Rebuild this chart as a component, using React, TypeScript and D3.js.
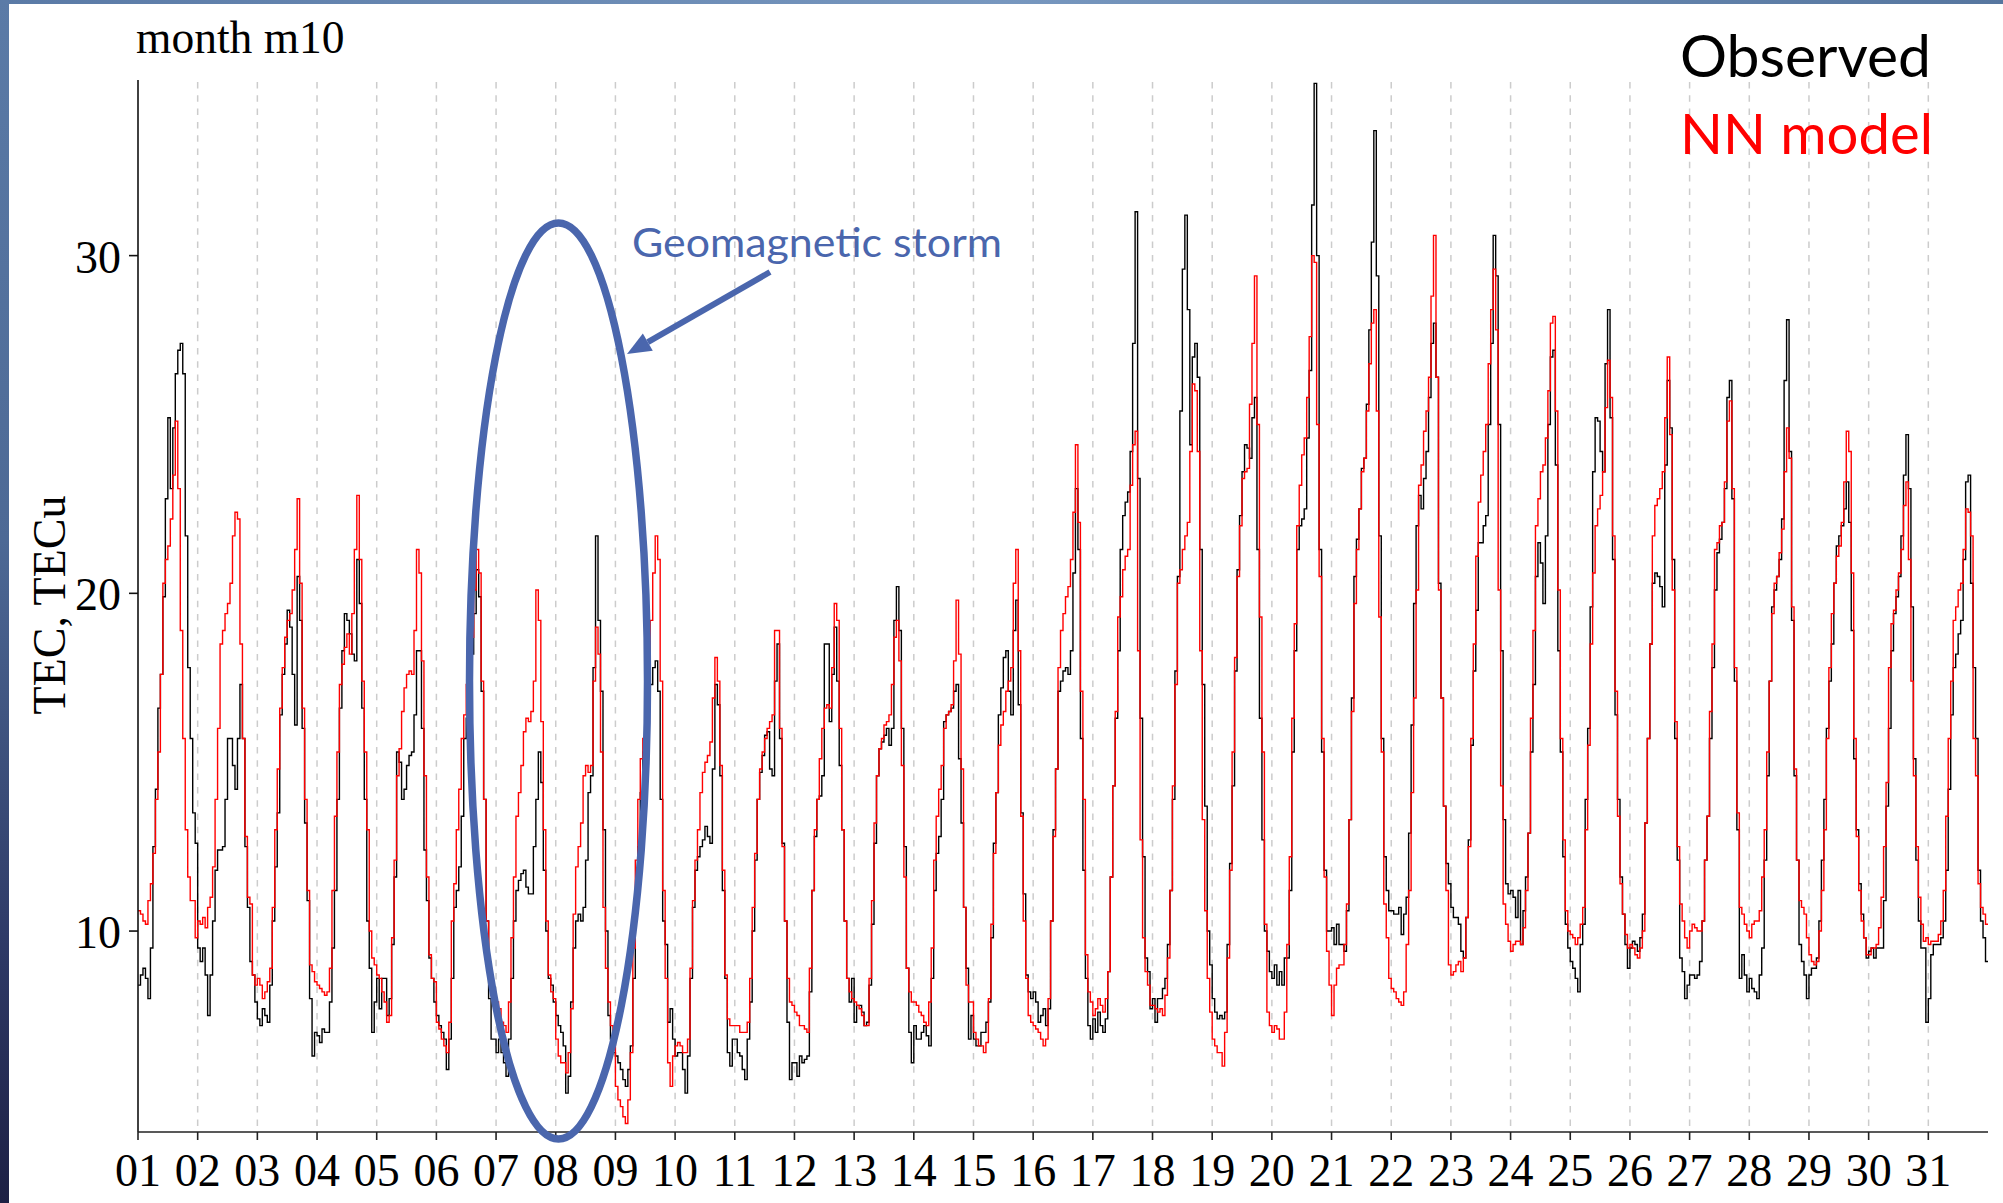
import React from 'react';
import * as d3 from 'd3';

const dayLabels = ['01','02','03','04','05','06','07','08','09','10','11','12','13','14','15','16','17','18','19','20','21','22','23','24','25','26','27','28','29','30','31'];
const yTicks = [10, 20, 30];
const titleText = 'month m10';
const yTitle = 'TEC, TECu';
const seriesNames = ['Observed', 'NN model'];
const annotationText = 'Geomagnetic storm';

// hourly TEC, one row per day (00..23 h)
const observedTEC: number[][] = [
  [8.4,8.7,8.9,8.6,8.0,9.5,12.5,14.2,16.6,17.6,19.9,22.8,25.2,23.1,24.9,26.5,27.2,27.4,26.5,21.7,17.8,15.7,13.5,12.6],
  [9.5,9.1,9.5,8.7,7.5,8.7,10.3,11.8,12.4,12.4,12.5,13.9,15.7,15.7,14.9,14.2,15.7,17.3,15.7,12.5,10.7,9.1,8.7,7.9],
  [7.4,7.2,7.7,7.5,7.3,8.4,10.3,11.9,13.5,16.4,17.6,18.5,19.5,19.0,17.6,16.1,20.5,19.2,16.0,13.2,10.9,8.0,6.3,7.0],
  [6.9,6.7,7.1,7.0,7.0,7.9,9.5,11.2,13.9,16.6,18.3,19.4,19.2,18.8,18.2,18.0,21.0,19.7,16.6,13.9,10.3,8.9,7.0,7.9],
  [8.6,7.7,8.6,8.6,7.5,8.0,9.6,11.6,15.3,15.0,13.9,14.2,14.9,15.2,15.3,16.4,18.3,18.3,16.0,12.4,10.9,9.2,8.6,7.9],
  [7.5,7.2,7.0,6.8,5.9,6.8,8.6,10.7,11.2,11.9,13.4,15.7,16.3,16.9,18.2,19.4,20.7,19.9,17.1,13.9,10.3,8.0,6.8,6.8],
  [6.4,6.8,6.4,6.1,5.7,6.8,8.6,10.3,11.2,11.5,11.7,11.8,11.3,11.1,11.1,12.5,13.9,15.3,14.4,11.8,10.0,8.6,8.4,7.9],
  [7.5,7.2,7.0,6.6,5.2,5.7,7.9,9.5,10.3,10.5,10.3,10.7,12.1,14.1,14.6,17.8,21.7,19.2,17.1,13.0,10.0,7.5,6.8,6.4],
  [6.3,6.1,5.9,5.6,5.4,5.9,6.6,8.6,10.7,12.5,14.1,15.3,16.0,16.6,17.3,17.8,18.0,17.1,13.9,10.3,9.6,7.3,7.7,6.8],
  [6.3,6.4,6.4,5.9,5.2,6.3,8.6,10.7,11.8,12.2,12.5,12.7,13.1,12.8,12.6,14.8,17.3,16.7,14.6,11.2,8.6,6.4,6.0,6.8],
  [6.8,6.4,6.3,5.9,5.6,6.8,7.9,10.0,12.1,13.9,14.7,15.2,15.8,15.9,14.8,14.6,17.4,18.5,15.7,12.6,10.3,7.3,5.6,6.1],
  [6.1,5.7,6.3,6.1,6.2,6.3,8.2,11.2,12.8,13.9,14.0,14.6,18.5,18.5,16.2,17.6,19.0,17.4,14.9,13.0,10.3,8.6,7.9,8.6],
  [7.3,7.8,7.8,7.6,7.2,7.3,8.4,10.2,12.6,14.6,15.4,15.6,15.8,16.0,15.5,16.0,19.2,20.2,18.9,16.0,12.5,8.9,7.0,6.1],
  [7.2,6.8,6.8,7.0,7.2,6.9,6.6,8.6,11.2,12.3,12.8,13.9,16.2,16.4,16.5,16.6,17.1,17.3,15.1,13.2,10.7,8.9,6.8,7.5],
  [6.8,6.6,6.6,7.0,7.0,7.3,7.9,9.8,12.6,14.1,16.4,17.2,18.1,18.3,17.1,16.4,18.9,19.8,16.7,13.5,11.1,8.7,8.2,8.0],
  [8.2,7.9,7.3,7.5,7.7,7.2,7.7,10.3,13.0,14.8,17.1,17.4,17.7,17.8,17.6,18.3,20.6,23.1,21.3,15.7,11.8,8.6,7.2,6.8],
  [7.4,7.0,7.6,7.2,7.0,7.4,8.8,11.6,14.3,16.3,18.3,21.3,22.3,22.7,23.0,24.2,27.4,31.3,23.4,16.3,12.2,9.2,8.8,7.7],
  [8.0,7.3,8.0,8.0,8.3,8.6,9.6,11.2,13.9,17.7,20.5,25.4,29.6,31.2,28.4,24.4,27.0,27.4,26.4,21.3,17.3,13.7,10.0,9.0],
  [8.0,7.6,7.4,7.5,7.4,7.6,9.6,12.0,14.3,17.7,20.7,22.3,23.6,24.4,24.3,24.0,25.2,25.8,21.3,16.3,12.7,10.0,9.4,8.8],
  [8.6,9.0,8.4,8.8,8.4,9.2,9.2,11.2,15.3,18.3,21.3,22.0,22.2,22.5,24.6,26.6,31.5,35.1,30.0,21.3,15.3,11.8,10.0,10.0],
  [10.1,9.6,10.2,9.6,9.6,9.4,10.6,13.3,16.9,20.5,21.6,22.5,23.7,24.0,25.6,27.8,30.4,33.7,29.4,21.7,15.7,12.2,11.2,10.6],
  [10.6,10.5,10.5,10.7,9.9,10.5,11.0,12.9,16.1,19.7,22.0,22.9,22.5,23.4,24.2,25.8,27.4,28.0,26.4,20.3,16.9,13.7,12.0,11.4],
  [10.7,10.4,10.4,10.2,9.4,9.2,10.4,12.7,15.5,17.7,19.5,21.5,21.5,22.0,22.3,25.0,27.4,30.6,29.4,25.0,18.3,13.3,11.4,11.1],
  [11.2,11.0,10.4,11.2,9.6,10.6,11.6,12.9,15.3,17.3,20.5,21.5,20.9,19.7,21.7,25.0,27.0,27.2,23.8,18.3,15.3,12.2,10.2,9.5],
  [9.1,8.9,8.6,8.2,9.6,10.2,13.9,16.0,19.6,23.6,25.2,25.1,24.2,23.6,26.8,28.4,25.2,21.0,16.4,13.9,11.6,10.5,9.6,8.9],
  [9.5,9.7,9.6,9.4,9.8,10.5,13.2,15.7,18.5,20.3,20.6,20.5,20.2,19.6,23.8,26.3,24.9,21.0,15.7,12.1,9.2,8.8,8.0,8.4],
  [8.7,8.7,8.6,8.7,9.1,10.3,12.1,13.4,15.7,17.8,20.1,21.2,21.6,22.1,23.1,25.8,26.3,22.8,17.4,13.0,8.6,9.3,8.7,8.2],
  [8.6,8.3,8.2,8.0,8.7,9.5,12.1,14.6,17.4,19.6,20.1,20.5,21.0,22.2,26.3,28.1,24.2,19.2,14.6,12.1,9.6,9.1,8.7,8.0],
  [8.7,8.9,8.9,9.2,10.3,12.1,13.9,16.0,17.4,18.5,20.3,21.4,21.7,22.0,22.5,23.3,22.1,18.9,15.1,13.0,11.4,10.5,9.8,9.2],
  [9.4,9.5,9.2,9.5,9.5,9.5,10.9,13.7,16.0,18.3,19.4,19.9,20.5,21.7,23.5,24.7,23.1,19.6,15.1,12.1,10.3,9.5,9.5,7.3],
  [8.0,9.3,9.6,9.6,9.6,9.8,10.3,11.8,14.2,16.4,17.8,18.2,18.8,19.2,21.0,23.3,23.5,20.3,17.8,15.7,11.8,10.3,9.8,9.1],
];

const modelTEC: number[][] = [
  [10.6,10.5,10.3,10.2,10.9,11.4,12.3,13.9,15.3,17.6,20.3,21.0,21.4,22.2,23.5,25.1,23.1,18.9,15.7,13.0,11.6,10.9,10.9,9.8],
  [10.3,10.2,10.4,10.1,10.7,11.0,11.9,13.9,16.0,18.5,18.9,19.4,19.7,20.3,21.7,22.4,22.2,18.5,15.7,12.8,11.0,10.8,8.7,8.4],
  [8.6,8.4,8.0,8.2,8.5,8.9,10.7,13.0,14.8,16.6,17.8,18.7,19.2,19.4,20.1,21.3,22.8,20.3,16.6,13.9,11.2,9.0,8.8,8.5],
  [8.4,8.3,8.2,8.1,8.2,8.9,11.2,13.4,15.3,17.3,17.9,18.4,18.8,18.2,19.4,21.3,22.9,21.0,17.4,15.3,13.0,10.0,9.2,9.0],
  [8.7,8.6,8.2,7.9,7.3,7.5,9.8,12.1,14.6,15.4,16.5,17.2,17.6,17.7,17.6,18.9,21.3,20.6,18.0,14.6,11.6,9.3,8.6,8.5],
  [7.3,7.1,6.8,6.6,6.4,7.3,10.3,11.4,13.0,14.2,15.7,16.4,17.3,18.2,18.7,20.1,21.3,20.6,17.4,13.9,10.3,8.9,8.2,7.9],
  [7.9,7.7,7.3,7.2,7.0,7.9,9.8,11.6,13.4,14.1,14.9,15.9,16.3,16.2,16.5,17.4,20.1,19.2,16.2,13.0,10.3,8.7,8.2,8.0],
  [6.8,6.3,6.1,6.1,5.8,6.4,7.7,10.5,11.9,12.5,13.2,14.6,14.9,14.7,14.9,17.4,19.0,18.2,15.3,10.7,8.9,7.9,7.2,7.0],
  [5.4,5.0,4.8,4.5,4.3,5.0,6.4,9.5,12.1,13.9,15.1,15.7,16.2,17.8,19.2,20.6,21.7,21.0,17.4,11.2,8.6,6.1,5.4,6.3],
  [6.6,6.7,6.6,6.4,6.4,6.8,8.9,10.9,12.1,13.0,14.1,14.7,15.0,15.2,15.6,16.9,18.1,17.4,14.9,11.8,8.7,7.4,7.2,7.2],
  [7.2,7.2,7.0,7.0,7.0,7.3,8.6,10.7,12.3,13.9,14.8,15.3,15.7,16.0,16.2,16.4,18.9,18.9,16.0,12.5,10.3,8.6,7.9,7.8],
  [7.6,7.5,7.2,7.2,7.1,7.0,8.9,11.2,13.0,13.9,15.1,16.0,16.6,16.7,16.6,17.8,19.7,19.2,16.0,13.0,10.3,8.6,8.2,8.0],
  [7.9,7.8,7.7,7.5,7.2,7.2,8.6,10.9,13.2,14.6,15.4,15.7,16.1,16.2,16.4,17.3,18.7,19.2,18.0,14.9,11.6,8.9,8.2,7.9],
  [7.9,7.8,7.6,7.5,7.3,7.2,7.9,9.5,12.1,13.4,14.2,14.9,16.0,16.4,16.5,16.7,18.0,19.8,18.2,14.8,10.7,8.4,7.9,7.9],
  [7.0,6.8,6.6,6.6,6.4,6.7,8.0,10.2,12.3,14.1,15.5,16.1,16.5,17.1,17.4,17.8,20.3,21.3,18.3,13.4,10.3,8.6,7.5,7.3],
  [7.2,7.1,7.0,6.8,6.6,6.8,8.0,10.3,12.8,14.8,17.8,18.9,19.4,19.9,20.2,21.0,22.4,24.4,22.1,17.1,13.9,9.3,8.2,7.9],
  [7.5,7.7,8.0,7.8,7.6,8.0,8.8,11.6,14.3,16.5,19.3,19.9,20.7,21.1,21.3,23.2,24.4,24.8,18.3,12.7,9.8,8.8,8.4,7.8],
  [7.8,7.7,7.6,7.7,7.5,8.1,9.2,11.2,14.3,17.3,20.3,20.7,21.3,21.7,22.1,24.2,26.2,26.0,24.2,18.3,13.3,10.6,8.6,7.6],
  [6.8,6.6,6.4,6.4,6.0,7.0,9.2,11.8,15.3,18.1,20.5,22.0,23.4,23.6,23.7,25.6,27.4,29.4,25.0,19.3,15.3,10.2,7.6,7.2],
  [7.0,7.2,7.1,6.8,6.8,7.6,9.6,12.2,16.3,19.1,22.0,23.2,24.1,24.6,25.8,27.6,30.0,29.8,25.0,20.5,15.7,11.6,9.4,8.4],
  [7.5,8.4,8.9,9.0,9.0,9.6,10.8,13.3,16.5,19.7,21.3,22.5,23.6,24.0,25.4,26.8,28.0,28.4,25.4,19.3,15.3,10.8,9.8,8.6],
  [8.3,8.2,8.0,7.9,7.8,8.2,9.6,11.2,14.1,16.9,20.1,23.2,23.8,24.8,25.4,26.4,28.8,30.6,26.4,20.1,16.9,13.7,11.2,9.0],
  [8.7,8.8,9.0,9.1,8.8,9.2,10.4,12.5,15.7,18.5,21.1,22.7,23.5,24.2,25.0,26.8,28.4,29.6,27.8,20.1,14.3,10.8,10.2,9.7],
  [9.4,9.6,9.7,9.7,9.6,10.1,11.2,12.9,16.3,18.9,22.0,22.8,23.6,23.8,24.6,26.0,28.0,28.2,25.4,20.1,15.7,12.7,10.6,10.0],
  [9.9,9.8,9.6,9.8,10.2,10.7,13.0,15.5,18.5,20.6,22.0,22.5,22.9,23.6,25.5,26.9,25.8,21.7,17.1,13.4,11.4,10.5,9.9,9.5],
  [9.6,9.5,9.3,9.2,9.5,10.0,13.2,15.7,18.5,21.7,22.6,22.8,23.1,23.6,25.2,27.0,24.7,20.1,16.2,12.5,10.8,10.3,9.8,9.5],
  [10.0,10.2,10.1,10.0,10.0,10.3,12.1,13.4,16.5,18.5,21.3,21.5,22.0,22.1,23.3,25.1,25.7,23.1,17.8,13.5,10.7,10.5,10.2,10.0],
  [9.8,10.2,10.3,10.3,10.6,11.6,13.0,15.3,17.4,19.4,20.3,20.5,21.2,21.9,23.6,24.9,24.0,19.6,14.8,12.1,10.9,10.7,10.5,9.8],
  [9.3,9.1,9.0,9.1,10.0,11.2,13.0,15.7,17.8,19.4,20.3,21.1,21.4,22.1,23.3,24.8,24.2,20.6,15.7,12.8,11.2,10.3,9.8,9.3],
  [9.3,9.5,9.5,9.6,10.1,11.0,12.5,14.4,17.8,19.1,19.5,20.1,20.6,21.3,22.6,23.3,21.0,17.4,14.6,12.5,11.0,10.2,9.7,9.8],
  [9.6,9.7,9.7,9.7,9.9,10.3,11.2,13.4,15.7,17.4,19.2,19.6,20.1,20.3,21.3,22.5,22.4,21.7,15.7,14.6,11.4,10.7,10.5,10.2],
];

const W = 2003;
const H = 1203;
const M = { left: 138, right: 1988, top: 80, bottom: 1132 };
const serif = "'Liberation Serif', 'Times New Roman', serif";
const sans = "Lato, 'Noto Sans', sans-serif";
const annBlue = '#4a66ad';

type Pt = [number, number];

function toPoints(days: number[][]): Pt[] {
  const pts: Pt[] = [];
  days.forEach((row, d) => row.forEach((v, h) => pts.push([d * 24 + h, v])));
  const last = pts[pts.length - 1];
  pts.push([days.length * 24, last[1]]);
  return pts;
}

export default function App() {
  const nHours = dayLabels.length * 24;
  const x = d3.scaleLinear().domain([0, nHours]).range([M.left, M.right]);
  const y = d3.scaleLinear().domain([4.05, 35.2]).range([M.bottom, M.top]);
  const line = d3
    .line<Pt>()
    .x((d) => x(d[0]))
    .y((d) => y(d[1]))
    .curve(d3.curveStepAfter);

  const obsPath = line(toPoints(observedTEC)) || '';
  const nnPath = line(toPoints(modelTEC)) || '';

  // annotation arrow geometry
  const tail: Pt = [770, 272];
  const tip: Pt = [627, 354];
  const dx = tip[0] - tail[0];
  const dy = tip[1] - tail[1];
  const len = Math.hypot(dx, dy);
  const ux = dx / len;
  const uy = dy / len;
  const headL = 24;
  const headW = 10;
  const bx = tip[0] - headL * ux;
  const by = tip[1] - headL * uy;
  const head = `${tip[0]},${tip[1]} ${bx + headW * -uy},${by + headW * ux} ${bx - headW * -uy},${by - headW * ux}`;

  return (
    <svg
      width={W}
      height={H}
      viewBox={`0 0 ${W} ${H}`}
      style={{ position: 'absolute', left: 0, top: 0, display: 'block' }}
    >
      <defs>
        <linearGradient id="leftBar" x1="0" y1="0" x2="0" y2="1">
          <stop offset="0" stopColor="#5b7ba7" />
          <stop offset="0.45" stopColor="#4d6995" />
          <stop offset="0.8" stopColor="#2d3864" />
          <stop offset="1" stopColor="#1d2044" />
        </linearGradient>
        <linearGradient id="topBar" x1="0" y1="0" x2="1" y2="0">
          <stop offset="0" stopColor="#5a7aa6" />
          <stop offset="0.5" stopColor="#7797bf" />
          <stop offset="1" stopColor="#56769f" />
        </linearGradient>
      </defs>
      <rect x={0} y={0} width={W} height={H} fill="#ffffff" />
      <rect x={0} y={0} width={W} height={4} fill="url(#topBar)" />
      <rect x={0} y={0} width={9} height={H} fill="url(#leftBar)" />

      {/* vertical dashed grid */}
      {dayLabels.map((lab, i) =>
        i === 0 ? null : (
          <line
            key={'g' + lab}
            x1={x(i * 24)}
            x2={x(i * 24)}
            y1={82}
            y2={M.bottom}
            stroke="#cccccc"
            strokeWidth={1.5}
            strokeDasharray="6.5 6.8"
          />
        )
      )}

      {/* series */}
      <path d={obsPath} fill="none" stroke="#000000" strokeWidth={1.4} />
      <path d={nnPath} fill="none" stroke="#ff0000" strokeWidth={1.4} />

      {/* axes */}
      <line x1={M.left} x2={M.left} y1={M.top} y2={M.bottom} stroke="#111" strokeWidth={1.6} />
      <line x1={M.left} x2={M.right} y1={M.bottom} y2={M.bottom} stroke="#222" strokeWidth={1.6} />
      {yTicks.map((t) => (
        <g key={'y' + t}>
          <line x1={M.left - 9} x2={M.left} y1={y(t)} y2={y(t)} stroke="#111" strokeWidth={1.6} />
          <text
            x={121}
            y={y(t) + 17}
            textAnchor="end"
            fontFamily={serif}
            fontSize={46}
            fill="#000"
          >
            {t}
          </text>
        </g>
      ))}
      {dayLabels.map((lab, i) => (
        <g key={'x' + lab}>
          <line
            x1={x(i * 24)}
            x2={x(i * 24)}
            y1={M.bottom}
            y2={M.bottom + 8}
            stroke="#222"
            strokeWidth={1.6}
          />
          <text
            x={x(i * 24)}
            y={1186}
            textAnchor="middle"
            fontFamily={serif}
            fontSize={46}
            fill="#000"
          >
            {lab}
          </text>
        </g>
      ))}

      <text x={136} y={53} fontFamily={serif} fontSize={45.5} fill="#000">
        {titleText}
      </text>
      <text
        transform="translate(65,605) rotate(-90)"
        textAnchor="middle"
        fontFamily={serif}
        fontSize={46}
        fill="#000"
      >
        {yTitle}
      </text>

      {/* annotation */}
      <ellipse cx={558.5} cy={681} rx={89} ry={458} fill="none" stroke={annBlue} strokeWidth={7.5} />
      <line x1={tail[0]} y1={tail[1]} x2={bx} y2={by} stroke={annBlue} strokeWidth={6} />
      <polygon points={head} fill={annBlue} />
      <text
        x={632}
        y={257}
        fontFamily={sans}
        fontSize={40}
        fill={annBlue}
        textLength={370}
        lengthAdjust="spacingAndGlyphs"
      >
        {annotationText}
      </text>

      {/* legend */}
      <text
        x={1680}
        y={77}
        fontFamily={sans}
        fontSize={58}
        fill="#000"
        textLength={251}
        lengthAdjust="spacingAndGlyphs"
      >
        {seriesNames[0]}
      </text>
      <text
        x={1680}
        y={154}
        fontFamily={sans}
        fontSize={57}
        fill="#ff0000"
        textLength={253}
        lengthAdjust="spacingAndGlyphs"
      >
        {seriesNames[1]}
      </text>
    </svg>
  );
}
